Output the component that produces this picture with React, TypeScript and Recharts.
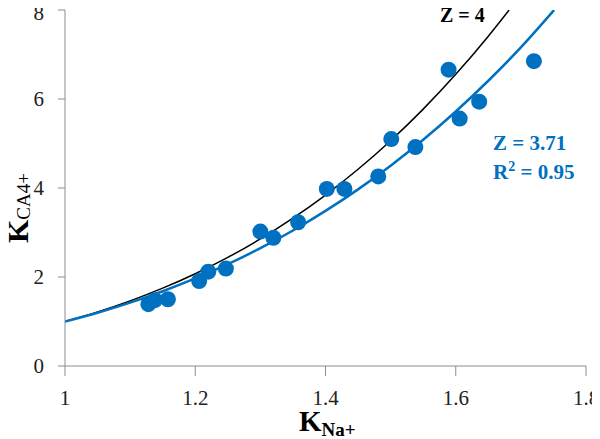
import React from 'react';
import { ComposedChart, Line, Scatter, XAxis, YAxis, Label } from 'recharts';

// measured points
const pointsX = [1.128, 1.138, 1.158, 1.206, 1.22, 1.247, 1.3, 1.32, 1.358, 1.402, 1.429, 1.481, 1.501, 1.538, 1.589, 1.606, 1.636, 1.72];
const pointsY = [1.39, 1.48, 1.5, 1.91, 2.12, 2.19, 3.02, 2.88, 3.23, 3.98, 3.98, 4.26, 5.1, 4.92, 6.66, 5.56, 5.94, 6.85];

// Z = 4 curve
const z4X = [1, 1.05, 1.1, 1.15, 1.2, 1.25, 1.3, 1.35, 1.4, 1.45, 1.5, 1.55, 1.6, 1.65, 1.682];
const z4Y = [1, 1.216, 1.464, 1.749, 2.074, 2.441, 2.856, 3.322, 3.842, 4.421, 5.063, 5.772, 6.554, 7.412, 8.0];

// Z = 3.71 fitted curve
const fitX = [1, 1.05, 1.1, 1.15, 1.2, 1.25, 1.3, 1.35, 1.4, 1.45, 1.5, 1.55, 1.6, 1.65, 1.7, 1.751];
const fitY = [1, 1.198, 1.424, 1.68, 1.967, 2.288, 2.647, 3.045, 3.485, 3.969, 4.501, 5.083, 5.718, 6.41, 7.161, 8.0];

const xTicks = [1, 1.2, 1.4, 1.6, 1.8];
const yTicks = [0, 2, 4, 6, 8];

const points = pointsX.map((x, i) => ({ x, y: pointsY[i] }));
const z4Curve = z4X.map((x, i) => ({ x, y: z4Y[i] }));
const fitCurve = fitX.map((x, i) => ({ x, y: fitY[i] }));

const BLUE = '#0070c0';
const FONT = '"Liberation Serif", "Times New Roman", serif';
const tickStyle = { fontFamily: FONT, fontSize: 21, fill: '#222' };

// y-axis title drawn in svg, rotated
const YTitle = (): React.ReactElement => (
    <text
        x={28}
        y={208}
        transform='rotate(-90 28 208)'
        textAnchor='middle'
        fontFamily={FONT}
        fill='#000'
    >
        <tspan fontSize={30} fontWeight='bold'>K</tspan>
        <tspan fontSize={19} dy={2}>CA4+</tspan>
    </text>
);

const App = (): React.ReactElement => {
    return (
        <div style={{ position: 'relative', width: 600, height: 439, margin: '-8px 0 0 -8px', fontFamily: FONT }}>
            <ComposedChart
                width={600}
                height={439}
                margin={{ top: 10, right: 14, left: 8, bottom: 0 }}
            >
                <XAxis
                    type='number'
                    dataKey='x'
                    domain={[1, 1.8]}
                    ticks={xTicks}
                    allowDataOverflow
                    height={73}
                    tickSize={10}
                    tickMargin={14}
                    stroke='#8c8c8c'
                    tick={tickStyle}
                />
                <YAxis
                    type='number'
                    dataKey='y'
                    domain={[0, 8]}
                    ticks={yTicks}
                    allowDataOverflow
                    width={57}
                    tickSize={7}
                    tickMargin={14}
                    stroke='#8c8c8c'
                    tick={tickStyle}
                >
                    <Label content={YTitle} />
                </YAxis>
                <Line
                    data={z4Curve}
                    dataKey='y'
                    type='monotone'
                    stroke='#000'
                    strokeWidth={1.5}
                    dot={false}
                    isAnimationActive={false}
                />
                <Line
                    data={fitCurve}
                    dataKey='y'
                    type='monotone'
                    stroke={BLUE}
                    strokeWidth={2.5}
                    dot={false}
                    isAnimationActive={false}
                />
                <Scatter
                    data={points}
                    dataKey='y'
                    fill={BLUE}
                    shape={(p: any) => <circle cx={p.cx} cy={p.cy} r={8} fill={BLUE} />}
                    isAnimationActive={false}
                />
            </ComposedChart>
            <div style={{ position: 'absolute', left: 440, top: 4, fontFamily: FONT, fontSize: 20, fontWeight: 'bold', color: '#000', whiteSpace: 'nowrap' }}>
                Z = 4
            </div>
            <div style={{ position: 'absolute', left: 493, top: 129, fontFamily: FONT, fontSize: 21, fontWeight: 'bold', color: BLUE, lineHeight: '29px', whiteSpace: 'nowrap' }}>
                <div>Z = 3.71</div>
                <div>
                    R<sup style={{ fontSize: 14, lineHeight: 0, verticalAlign: 0, position: 'relative', top: -8 }}>2</sup> = 0.95
                </div>
            </div>
            <div style={{ position: 'absolute', left: 299, top: 412, fontFamily: FONT, fontSize: 29, fontWeight: 'bold', lineHeight: '18px', whiteSpace: 'nowrap' }}>
                K<sub style={{ fontSize: 19, lineHeight: 0, position: 'relative', top: -2, verticalAlign: 'sub' }}>Na+</sub>
            </div>
        </div>
    );
};

export default App;
